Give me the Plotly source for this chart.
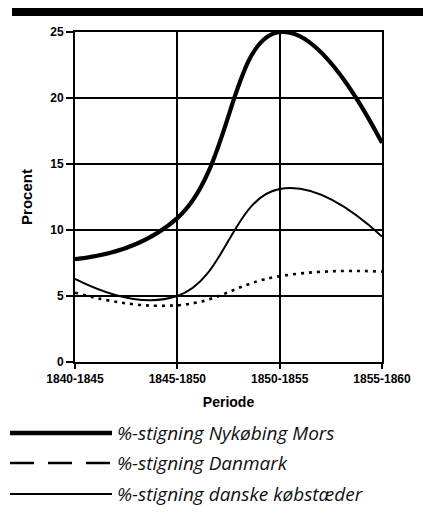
import plotly.graph_objects as go

perioder = ["1840-1845", "1845-1850", "1850-1855", "1855-1860"]
nykobing = [7.8, 10.9, 25.0, 16.6]
danmark = [5.25, 4.3, 6.5, 6.85]
kobstaeder = [6.3, 5.0, 13.1, 9.5]
legend_labels = ["%-stigning Nykøbing Mors", "%-stigning Danmark", "%-stigning danske købstæder"]

W, H = 423, 525
L, R, T, B = 75, 382, 32, 362

def px(xp):
    return (xp - L) / (R - L)

def py(yp):
    return (B - yp) / (B - T)

fig = go.Figure()
fig.add_trace(go.Scatter(x=perioder, y=danmark, mode="lines",
                         line=dict(color="black", width=2.6, dash="3px,5px", shape="spline", smoothing=1.3),
                         name=legend_labels[1]))
fig.add_trace(go.Scatter(x=perioder, y=kobstaeder, mode="lines",
                         line=dict(color="black", width=2, shape="spline", smoothing=1.3),
                         name=legend_labels[2]))
fig.add_trace(go.Scatter(x=perioder, y=nykobing, mode="lines",
                         line=dict(color="black", width=4.2, shape="spline", smoothing=1.3),
                         name=legend_labels[0]))

tickfont = dict(family="Liberation Sans, Arial, sans-serif", size=12, color="black", weight=700)

fig.update_layout(
    width=W, height=H,
    margin=dict(l=L, r=W - R, t=T, b=H - B),
    paper_bgcolor="white", plot_bgcolor="white",
    showlegend=False,
    xaxis=dict(type="category", range=[0, 3], showgrid=True, gridcolor="black", gridwidth=2,
               showline=True, linecolor="black", linewidth=2, mirror=True,
               ticks="outside", ticklen=5, tickwidth=2, tickcolor="black",
               tickfont=tickfont,
               title=dict(text="Periode", font=dict(family="Liberation Sans, Arial, sans-serif", size=14, color="black", weight=700), standoff=12),
               zeroline=False),
    yaxis=dict(range=[0, 25], tickvals=[0, 5, 10, 15, 20, 25], showgrid=True, gridcolor="black", gridwidth=2,
               showline=True, linecolor="black", linewidth=2, mirror=True,
               ticks="outside", ticklen=7, tickwidth=2, tickcolor="black",
               tickfont=tickfont,
               title=dict(text="Procent", font=dict(family="Liberation Sans, Arial, sans-serif", size=15, color="black", weight=700), standoff=14),
               zeroline=False),
)

shapes = []
# top black bar
shapes.append(dict(type="rect", xref="paper", yref="paper", x0=px(12), x1=px(423), y0=py(16), y1=py(8),
                   fillcolor="black", line=dict(width=0)))
# legend samples
leg_y = [433, 463, 494]
shapes.append(dict(type="line", xref="paper", yref="paper", x0=px(10), x1=px(112), y0=py(leg_y[0]), y1=py(leg_y[0]),
                   line=dict(color="black", width=4.5)))
shapes.append(dict(type="line", xref="paper", yref="paper", x0=px(10), x1=px(112), y0=py(leg_y[1]), y1=py(leg_y[1]),
                   line=dict(color="black", width=2.5, dash="24px,14px")))
shapes.append(dict(type="line", xref="paper", yref="paper", x0=px(10), x1=px(112), y0=py(leg_y[2]), y1=py(leg_y[2]),
                   line=dict(color="black", width=2)))

annotations = []
for lab, yy in zip(legend_labels, leg_y):
    annotations.append(dict(text=lab, xref="paper", yref="paper", x=px(115), y=py(yy),
                            xanchor="left", yanchor="middle", showarrow=False,
                            font=dict(family="Open Sans, Lato, sans-serif", size=19, color="#111", style="italic")))

fig.update_layout(shapes=shapes, annotations=annotations)
fig.write_html("out.html", config={"displayModeBar": False},
               post_script="document.body.style.margin='0px';document.body.style.padding='0px';")
